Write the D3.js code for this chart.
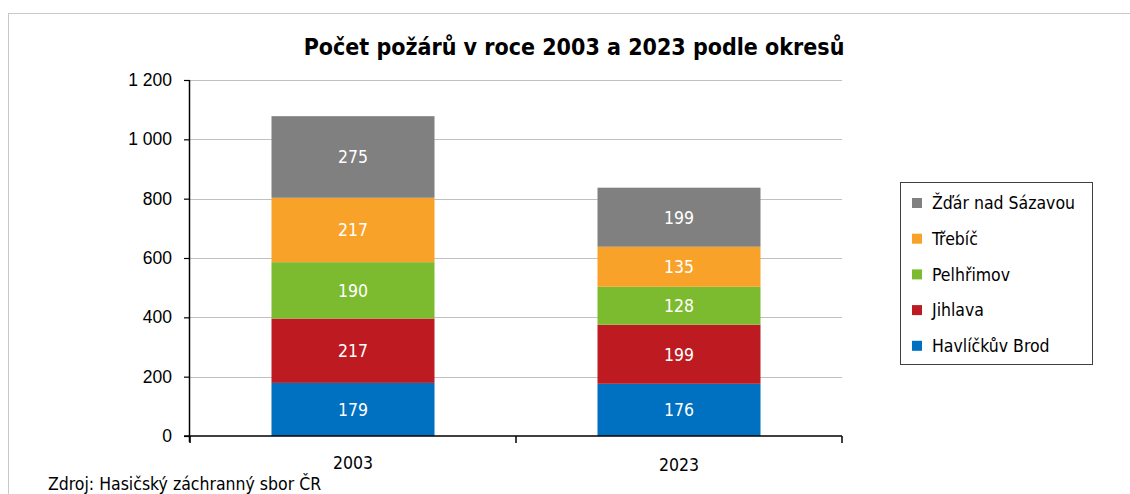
<!DOCTYPE html>
<html>
<head>
<meta charset="utf-8">
<script src="https://cdn.jsdelivr.net/npm/d3@7"></script>
<style>
  body { margin: 0; background: #fff; }
  svg { display: block; font-family: "DejaVu Sans Condensed", "DejaVu Sans", sans-serif; font-stretch: condensed; }
</style>
</head>
<body>
<div id="chart"></div>
<script>
// Data
var years = ["2003", "2023"];
var districts = ["Havlíčkův Brod", "Jihlava", "Pelhřimov", "Třebíč", "Žďár nad Sázavou"];
var havlickuvBrod = [179, 176];
var jihlava = [217, 199];
var pelhrimov = [190, 128];
var trebic = [217, 135];
var zdar = [275, 199];
var yTicks = [0, 200, 400, 600, 800, 1000, 1200];
var colors = ["#0070c0", "#be1a21", "#7cbb2f", "#f8a229", "#808080"];

var seriesValues = [havlickuvBrod, jihlava, pelhrimov, trebic, zdar];
var labelSize = 17.5;

// Build rows for the stack
var rows = years.map(function (y, i) {
    var r = { year: y };
    districts.forEach(function (d, k) { r[d] = seriesValues[k][i]; });
    return r;
});

var width = 1130, height = 494;
var margin = { top: 80, left: 190, right: 288, bottom: 58 };

var svg = d3.select("#chart").append("svg")
    .attr("width", width)
    .attr("height", height);

// Outer frame
svg.append("rect")
    .attr("x", 8.5).attr("y", 13.5)
    .attr("width", width).attr("height", height)
    .attr("fill", "none")
    .attr("stroke", "#c8c8c8")
    .attr("stroke-width", 1);

var x = d3.scaleBand()
    .domain(years)
    .range([margin.left, width - margin.right])
    .paddingInner(0.5)
    .paddingOuter(0.25);

var y = d3.scaleLinear()
    .domain([0, 1200])
    .range([height - margin.bottom, margin.top]);

// Gridlines
svg.append("g")
    .selectAll("line")
    .data(yTicks.slice(1))
    .join("line")
    .attr("x1", margin.left)
    .attr("x2", width - margin.right)
    .attr("y1", d => Math.round(y(d)) + 0.5)
    .attr("y2", d => Math.round(y(d)) + 0.5)
    .attr("stroke", "#c0c0c0");

// Stacked bars
var stack = d3.stack().keys(districts);
var layers = stack(rows);

var layerG = svg.append("g")
    .selectAll("g")
    .data(layers)
    .join("g")
    .attr("fill", (d, i) => colors[i]);

layerG.selectAll("rect")
    .data(d => d)
    .join("rect")
    .attr("x", d => x(d.data.year))
    .attr("width", x.bandwidth())
    .attr("y", d => y(d[1]))
    .attr("height", d => y(d[0]) - y(d[1]));

layerG.selectAll("text")
    .data(d => d)
    .join("text")
    .attr("x", d => x(d.data.year) + x.bandwidth() / 2)
    .attr("y", d => (y(d[0]) + y(d[1])) / 2)
    .attr("dy", "0.36em")
    .attr("text-anchor", "middle")
    .attr("fill", "#fff")
    .attr("font-size", labelSize)
    .text(d => d[1] - d[0]);

// Y axis
var yAxis = svg.append("g")
    .attr("transform", `translate(${margin.left},0)`)
    .call(d3.axisLeft(y)
        .tickValues(yTicks)
        .tickSize(6)
        .tickPadding(12)
        .tickFormat(d => d3.format(",")(d).replace(",", " ")));
yAxis.select(".domain").attr("d", `M-0.5,${y(0) + 6}V${y(1200)}`).attr("stroke", "#000").attr("stroke-width", 1.5);
yAxis.selectAll("line").attr("stroke", "#000").attr("stroke-width", 1.2);
yAxis.selectAll("text").attr("font-size", labelSize).attr("fill", "#000")
    .style("font-family", "inherit");

// X axis with ticks at category boundaries
var xAxisG = svg.append("g")
    .attr("transform", `translate(0,${y(0)})`);
xAxisG.append("line")
    .attr("x1", margin.left - 6)
    .attr("x2", width - margin.right)
    .attr("stroke", "#000")
    .attr("stroke-width", 1.5);
var step = x.step();
var bounds = [margin.left, margin.left + step, margin.left + 2 * step];
xAxisG.selectAll(".xtick")
    .data(bounds)
    .join("line")
    .attr("x1", d => d).attr("x2", d => d)
    .attr("y1", 0).attr("y2", 7)
    .attr("stroke", "#000")
    .attr("stroke-width", 1.5);
xAxisG.selectAll(".xlabel")
    .data(years)
    .join("text")
    .attr("x", d => x(d) + x.bandwidth() / 2)
    .attr("y", (d, i) => 33 + i * 2)
    .attr("text-anchor", "middle")
    .attr("font-size", labelSize)
    .text(d => d);

// Title
svg.append("text")
    .attr("x", 574)
    .attr("y", 55)
    .attr("text-anchor", "middle")
    .attr("font-size", 23)
    .attr("font-weight", "bold")
    .text("Počet požárů v roce 2003 a 2023 podle okresů");

// Legend
var legend = svg.append("g").attr("transform", "translate(900,182)");
legend.append("rect")
    .attr("x", 0.5).attr("y", 0.5)
    .attr("width", 192).attr("height", 182)
    .attr("fill", "none")
    .attr("stroke", "#404040");
var legendOrder = districts.slice().reverse();
var item = legend.selectAll(".item")
    .data(legendOrder)
    .join("g")
    .attr("transform", (d, i) => `translate(0,${21 + i * 35.7})`);
item.append("rect")
    .attr("x", 12).attr("y", -5)
    .attr("width", 10).attr("height", 10)
    .attr("fill", d => colors[districts.indexOf(d)]);
item.append("text")
    .attr("x", 32)
    .attr("dy", "0.36em")
    .attr("font-size", labelSize)
    .text(d => d);

// Source note
svg.append("text")
    .attr("x", 48)
    .attr("y", 490)
    .attr("font-size", labelSize)
    .text("Zdroj: Hasičský záchranný sbor ČR");
</script>
</body>
</html>
